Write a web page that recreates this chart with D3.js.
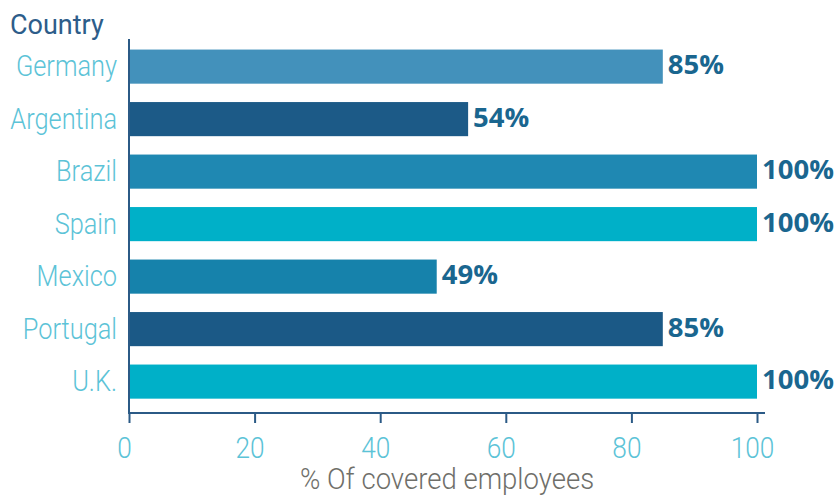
<!DOCTYPE html>
<html>
<head>
<meta charset="utf-8">
<script src="https://cdn.jsdelivr.net/npm/d3@7"></script>
<style>
  html, body { margin: 0; padding: 0; background: #fff; }
  svg { display: block; }
</style>
</head>
<body>
<svg id="chart" width="836" height="495"></svg>
<script>
// Share of employees covered, by country
const countries = ["Germany", "Argentina", "Brazil", "Spain", "Mexico", "Portugal", "U.K."];
const coverage = [85, 54, 100, 100, 49, 85, 100];
const barColors = ["#4391bb", "#1c5a87", "#1f88b2", "#00b0c8", "#1682ab", "#1b5986", "#00b0c8"];
const xTicks = [0, 20, 40, 60, 80, 100];

const svg = d3.select("#chart");
const axisColor = "#2b5a86";
const lightText = "#5cc3d7";
const narrow = 0.875; // horizontal squeeze for the light, condensed labels

const x = d3.scaleLinear().domain([0, 100]).range([129, 757]);
const y = d3.scaleBand()
  .domain(countries)
  .range([40, 413])
  .paddingInner(0.35)
  .paddingOuter(0.2275)
  .align(0.4);

// bars
svg.append("g").selectAll("rect")
  .data(countries)
  .join("rect")
  .attr("x", x(0))
  .attr("y", d => y(d))
  .attr("width", (d, i) => x(coverage[i]) - x(0))
  .attr("height", y.bandwidth())
  .attr("fill", (d, i) => barColors[i]);

// value labels
svg.append("g").selectAll("text")
  .data(countries)
  .join("text")
  .attr("x", (d, i) => x(coverage[i]) + 5)
  .attr("y", d => y(d) + y.bandwidth() / 2)
  .attr("dy", "0.27em")
  .attr("font-family", "'Open Sans', sans-serif")
  .attr("font-weight", 700)
  .attr("font-size", 27.5)
  .attr("fill", "#1a668f")
  .text((d, i) => coverage[i] + "%");

// y axis: category names
const yAxis = svg.append("g")
  .attr("transform", `translate(${x(0)},0)`)
  .call(d3.axisLeft(y).tickSize(0).tickPadding(12));
yAxis.select(".domain").remove();
yAxis.selectAll("text")
  .attr("x", -12 / narrow)
  .attr("transform", `scale(${narrow},1)`)
  .attr("dy", "0.34em")
  .attr("font-family", "Roboto, sans-serif")
  .attr("font-weight", 300)
  .attr("font-size", 29)
  .attr("fill", lightText);

svg.append("line")
  .attr("x1", x(0)).attr("x2", x(0))
  .attr("y1", 39).attr("y2", 413)
  .attr("stroke", axisColor).attr("stroke-width", 2);

// x axis
const xAxis = svg.append("g")
  .attr("transform", "translate(0,413)")
  .call(d3.axisBottom(x).tickValues(xTicks).tickSize(10).tickPadding(14).tickFormat(d3.format("d")));
xAxis.select(".domain").remove();
xAxis.selectAll(".tick line").attr("stroke", axisColor).attr("stroke-width", 2);
xAxis.selectAll("text")
  .attr("x", -5 / narrow)
  .attr("transform", `scale(${narrow},1)`)
  .attr("font-family", "Roboto, sans-serif")
  .attr("font-weight", 300)
  .attr("font-size", 30)
  .attr("fill", lightText);

svg.append("line")
  .attr("x1", x(0) - 1).attr("x2", 765)
  .attr("y1", 413).attr("y2", 413)
  .attr("stroke", axisColor).attr("stroke-width", 2);

// titles
svg.append("text")
  .attr("x", 10).attr("y", 34)
  .attr("font-family", "Roboto, sans-serif")
  .attr("font-size", 27)
  .attr("fill", "#2d5d8a")
  .text("Country");

svg.append("text")
  .attr("transform", "translate(447,489) scale(0.95,1)")
  .attr("text-anchor", "middle")
  .attr("font-family", "Roboto, sans-serif")
  .attr("font-weight", 300)
  .attr("font-size", 29)
  .attr("fill", "#6f6f6a")
  .text("% Of covered employees");
</script>
</body>
</html>
